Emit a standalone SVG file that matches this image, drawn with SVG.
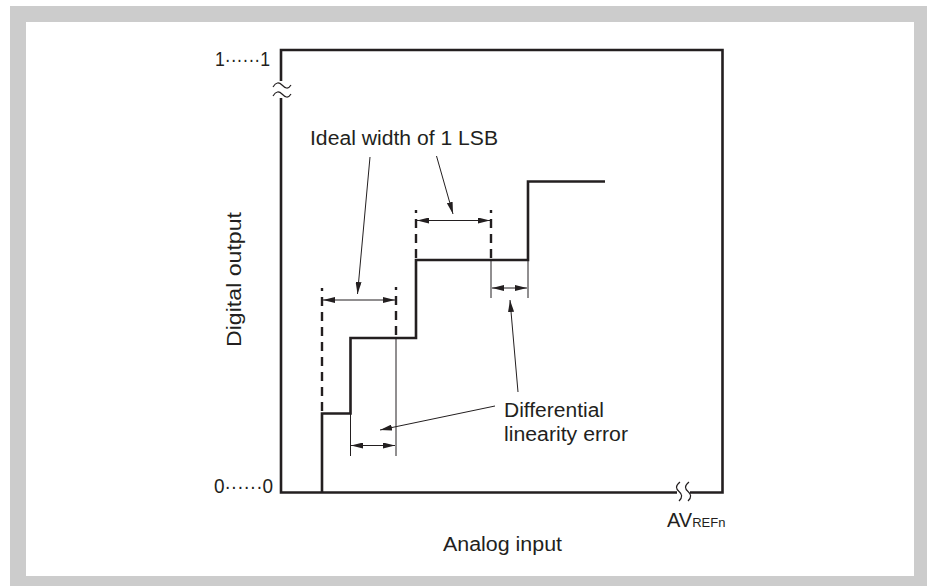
<svg xmlns="http://www.w3.org/2000/svg" width="927" height="586" viewBox="0 0 927 586">
<defs>
<style>
.t{font-family:"Liberation Sans",Arial,sans-serif;font-size:20px;fill:#231f20}
.thick{fill:none;stroke:#231f20;stroke-width:2.6}
.dash{fill:none;stroke:#231f20;stroke-width:2.4;stroke-dasharray:9 6}
.thin{fill:none;stroke:#231f20;stroke-width:1}
.lead{fill:none;stroke:#231f20;stroke-width:1}
.brk{fill:none;stroke:#231f20;stroke-width:1.2}
</style>
<marker id="ah" viewBox="0 0 12 6" refX="12" refY="3" markerWidth="12" markerHeight="6" markerUnits="userSpaceOnUse" orient="auto-start-reverse">
<path d="M0,0 L12,3 L0,6 Z" fill="#231f20"/>
</marker>
</defs>
<rect x="0" y="0" width="927" height="586" fill="#ffffff"/>
<rect x="10" y="6" width="917" height="580" fill="#cccccc"/>
<rect x="26" y="22" width="888" height="554" fill="#ffffff"/>

<g id="frame">
<path class="thick" d="M281,98 V492.5 H677 M690,492.5 H722.5 V50 H281 V81"/>
<path class="brk" d="M273,87 C276,82 279,82 282,85 S288,90 291,85"/>
<path class="brk" d="M273,96 C276,91 279,91 282,94 S288,99 291,94"/>
<path class="brk" d="M680,482 C675,486 676,489 679,491.5 S683,497 679,501"/>
<path class="brk" d="M689,482 C684,486 685,489 688,491.5 S692,497 688,501"/>
</g>

<g id="staircase">
<path class="thick" d="M322,492.5 V413.5 H350.5 V338 H416 V260 H528 V181.5 H605"/>
</g>

<g id="ideal-width-1">
<line class="dash" x1="322" y1="288" x2="322" y2="413" stroke-dashoffset="6"/>
<line class="dash" x1="396" y1="287" x2="396" y2="338" stroke-dashoffset="6"/>
<line class="thin" x1="396" y1="338" x2="396" y2="456"/>
</g>
<g id="ideal-width-2">
<line class="dash" x1="416" y1="210" x2="416" y2="260" stroke-dashoffset="6"/>
<line class="dash" x1="491" y1="210" x2="491" y2="260" stroke-dashoffset="6"/>
<line class="thin" x1="491" y1="260" x2="491" y2="298"/>
<line class="thin" x1="528" y1="260" x2="528" y2="298"/>
<line class="thin" x1="350.5" y1="413" x2="350.5" y2="456"/>
</g>

<g id="connectors">
<line class="lead" x1="323" y1="300" x2="395" y2="300" marker-start="url(#ah)" marker-end="url(#ah)"/>
<line class="lead" x1="417" y1="220.5" x2="490" y2="220.5" marker-start="url(#ah)" marker-end="url(#ah)"/>
<line class="lead" x1="492" y1="288" x2="527" y2="288" marker-start="url(#ah)" marker-end="url(#ah)"/>
<line class="lead" x1="351" y1="445.5" x2="395" y2="445.5" marker-start="url(#ah)" marker-end="url(#ah)"/>
<line class="lead" x1="370" y1="157" x2="357.5" y2="294" marker-end="url(#ah)"/>
<line class="lead" x1="436.5" y1="156" x2="453" y2="214" marker-end="url(#ah)"/>
<line class="lead" x1="518" y1="392" x2="510" y2="300" marker-end="url(#ah)"/>
<line class="lead" x1="495" y1="406" x2="380" y2="430" marker-end="url(#ah)"/>
</g>

<g id="labels">
<text class="t" x="215" y="66" font-size="21" textLength="55" lengthAdjust="spacingAndGlyphs">1······1</text>
<text class="t" x="214" y="493" font-size="21" textLength="59" lengthAdjust="spacingAndGlyphs">0······0</text>
<text class="t" x="310" y="145" textLength="188" lengthAdjust="spacingAndGlyphs">Ideal width of 1 LSB</text>
<text class="t" x="504" y="417" textLength="100" lengthAdjust="spacingAndGlyphs">Differential</text>
<text class="t" x="504" y="441" textLength="124" lengthAdjust="spacingAndGlyphs">linearity error</text>
<text class="t" transform="translate(241,347) rotate(-90)" textLength="135" lengthAdjust="spacingAndGlyphs">Digital output</text>
<text class="t" x="443" y="551" textLength="119" lengthAdjust="spacingAndGlyphs">Analog input</text>
<text class="t" x="667" y="527" font-size="21">AV<tspan font-size="13">REFn</tspan></text>
</g>
</svg>
